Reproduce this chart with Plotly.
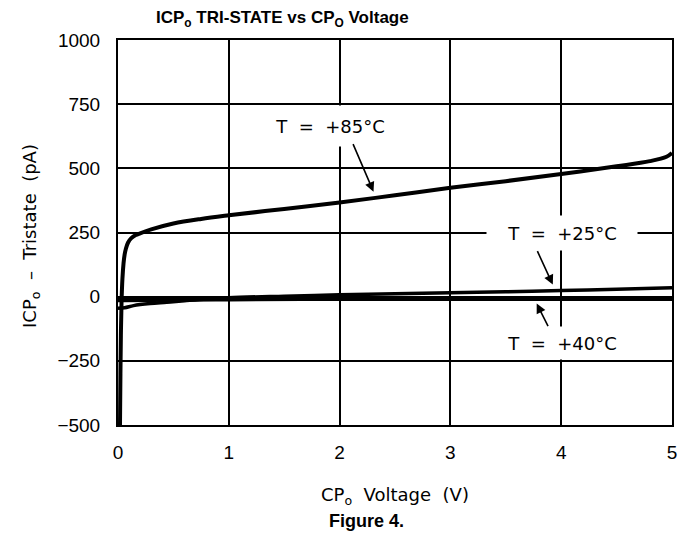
import plotly.graph_objects as go

# ---- data ----
x85 = [0.018, 0.022, 0.026, 0.032, 0.04, 0.05, 0.06, 0.07, 0.09, 0.12, 0.16, 0.2, 0.3, 0.5, 0.75,
       1.0, 1.5, 2.0, 2.5, 3.0, 3.5, 4.0, 4.5, 4.8, 4.95, 5.0]
y85 = [-500, -300, -150, -20, 70, 130, 165, 185, 210, 228, 240, 247, 262, 285, 303,
       317, 342, 367, 395, 424, 450, 478, 508, 528, 545, 560]

x25 = [0.0, 0.06, 0.14, 0.29, 0.44, 0.6, 0.8, 1.0, 1.5, 2.0, 2.5, 3.0, 3.5, 4.0, 4.5, 5.0]
y25 = [-45, -43, -35, -27, -22, -16, -9, -4, 2, 7, 11, 15, 19, 24, 29, 35]

x40 = [0.0, 0.05, 0.3, 1.0, 2.0, 3.0, 4.0, 5.0]
y40 = [-12, -12, -11, -9, -7, -7, -7, -7]

x_ticks = [0, 1, 2, 3, 4, 5]
y_ticks = [-500, -250, 0, 250, 500, 750, 1000]

labels = ["T  =  +85°C", "T  =  +25°C", "T  =  +40°C"]

TICKFONT = "Liberation Sans"
FONT = "DejaVu Sans"
BOLD = "Liberation Sans"

fig = go.Figure()
fig.add_trace(go.Scatter(x=x85, y=y85, mode="lines", line=dict(color="black", width=4),
                         line_shape="spline", hoverinfo="skip", showlegend=False))
fig.add_trace(go.Scatter(x=x25, y=y25, mode="lines", line=dict(color="black", width=3.5),
                         line_shape="spline", hoverinfo="skip", showlegend=False))
fig.add_trace(go.Scatter(x=x40, y=y40, mode="lines", line=dict(color="black", width=5),
                         line_shape="spline", hoverinfo="skip", showlegend=False))

axis_common = dict(showline=True, mirror=True, linecolor="black", linewidth=2,
                   showgrid=True, gridcolor="black", gridwidth=1.5, zeroline=False,
                   ticks="", tickfont=dict(family=TICKFONT, size=19, color="black"))

fig.update_xaxes(range=[0, 5], tickvals=x_ticks, ticklabelstandoff=9, **axis_common)
fig.update_yaxes(range=[-500, 1000], tickvals=y_ticks, ticklabelstandoff=12, **axis_common)

ann = []
# curve labels with white boxes
ann.append(dict(x=1.917, y=666, xref="x", yref="y", text=labels[0], showarrow=False,
                font=dict(family=FONT, size=18, color="black"), bgcolor="white",
                width=140, height=36, borderpad=2))
ann.append(dict(x=4.005, y=249, xref="x", yref="y", text=labels[1], showarrow=False,
                font=dict(family=FONT, size=18, color="black"), bgcolor="white",
                width=146, height=30, borderpad=2))
ann.append(dict(x=4.005, y=-179, xref="x", yref="y", text=labels[2], showarrow=False,
                font=dict(family=FONT, size=18, color="black"), bgcolor="white",
                width=142, height=28, borderpad=2))
# arrows
for (hx, hy, tx, ty) in [(2.306, 409, 2.116, 600), (3.924, 47, 3.779, 183), (3.779, -27, 3.888, -121)]:
    ann.append(dict(x=hx, y=hy, ax=tx, ay=ty, xref="x", yref="y", axref="x", ayref="y",
                    text="", showarrow=True, arrowhead=2, arrowsize=1.2, arrowwidth=1.6,
                    arrowcolor="black"))
# titles
ann.append(dict(x=0.2966, y=1.055, xref="paper", yref="paper", showarrow=False,
                text="<b>ICP<sub>o</sub> TRI-STATE vs CP<sub>O</sub> Voltage</b>",
                font=dict(family=BOLD, size=17, color="black"), xanchor="center", yanchor="middle"))
ann.append(dict(x=0.4485, y=-0.25, xref="paper", yref="paper", showarrow=False,
                text="<b>Figure 4.</b>",
                font=dict(family=BOLD, size=18, color="black"), xanchor="center", yanchor="middle"))
ann.append(dict(x=0.5, y=-0.185, xref="paper", yref="paper", showarrow=False,
                text="CP<sub>o</sub>  Voltage  (V)",
                font=dict(family=FONT, size=18, color="black"), xanchor="center", yanchor="middle"))
ann.append(dict(x=-0.157, y=0.491, xref="paper", yref="paper", showarrow=False, textangle=-90,
                text="ICP<sub>o</sub>  –  Tristate  (pA)",
                font=dict(family=FONT, size=18, color="black"), xanchor="center", yanchor="middle"))

# figure is 8px smaller than the window to allow for the page's default body margin
fig.update_layout(width=681, height=531, margin=dict(l=110, r=17, t=32, b=114),
                  plot_bgcolor="white", paper_bgcolor="white", annotations=ann)

fig.write_html("out.html")
